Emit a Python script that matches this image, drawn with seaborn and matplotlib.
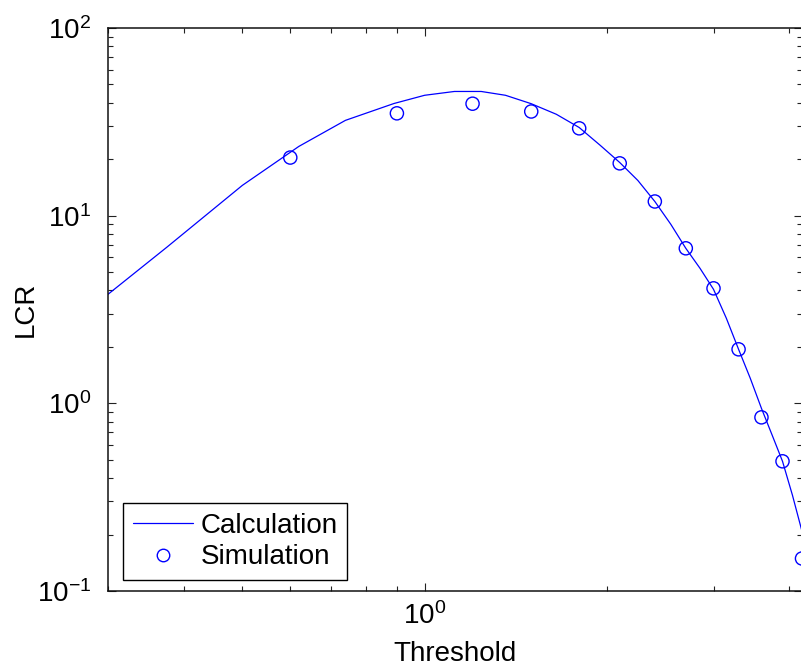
import math
import matplotlib
matplotlib.use("Agg")
import matplotlib.pyplot as plt
from matplotlib.lines import Line2D
from matplotlib.ticker import FuncFormatter, NullFormatter, LogLocator
import seaborn as sns
import pandas as pd

# Calculation curve
calc_x = [0.3, 0.375, 0.5, 0.62, 0.74, 0.89, 1.0, 1.12, 1.24, 1.36, 1.5, 1.65,
          1.8, 1.95, 2.1, 2.25, 2.4, 2.55, 2.7, 2.85, 3.0, 3.15, 3.3, 3.45,
          3.6, 3.75, 3.9, 4.05, 4.2]
calc_y = [3.81, 6.78, 14.5, 23.4, 32.2, 39.6, 43.8, 45.9, 45.9, 43.8, 39.5, 34.7,
          29.5, 23.7, 19.2, 15.4, 11.9, 9.0, 6.7, 5.24, 4.05, 2.84, 1.94, 1.36,
          0.94, 0.676, 0.491, 0.324, 0.208]

# Simulation points
sim_x = [0.6, 0.9, 1.2, 1.5, 1.8, 2.1, 2.4, 2.7, 3.0, 3.3, 3.6, 3.9, 4.2]
sim_y = [20.4, 35.1, 39.5, 35.9, 29.2, 19.0, 11.9, 6.70, 4.10, 1.94, 0.842, 0.491, 0.149]

xlim = (0.3, 4.2)
ylim = (0.1, 100)

sns.set_style("ticks")
plt.rcParams["font.family"] = ["Liberation Sans", "DejaVu Sans"]
plt.rcParams["mathtext.fontset"] = "custom"
plt.rcParams["mathtext.rm"] = "Liberation Sans"
plt.rcParams["mathtext.it"] = "Liberation Sans"
plt.rcParams["mathtext.default"] = "regular"
for k in ["text.color", "axes.labelcolor", "xtick.color", "ytick.color"]:
    plt.rcParams[k] = "black"

FS = 20
blue = (0, 0, 1)
fig = plt.figure(figsize=(8.01, 6.70), dpi=100)
W, H = 801, 670
ax = fig.add_axes([108 / W, 79 / H, 694 / W, 563 / H])

calc_df = pd.DataFrame({"x": calc_x, "y": calc_y})
sim_df = pd.DataFrame({"x": sim_x, "y": sim_y})

sns.lineplot(data=calc_df, x="x", y="y", ax=ax, color=blue, linewidth=0.9,
             sort=False, estimator=None)
sns.scatterplot(data=sim_df, x="x", y="y", ax=ax, marker="o", s=90,
                facecolors="none", edgecolor=blue, linewidth=1.0, clip_on=False, zorder=3)

ax.set_xscale("log")
ax.set_yscale("log")
ax.set_xlim(*xlim)
ax.set_ylim(*ylim)

fmt = FuncFormatter(lambda v, p: r"$10^{%d}$" % round(math.log10(v)))
ax.xaxis.set_major_locator(LogLocator(base=10, numticks=10))
ax.yaxis.set_major_locator(LogLocator(base=10, numticks=10))
ax.xaxis.set_minor_locator(LogLocator(base=10, subs=range(2, 10), numticks=10))
ax.yaxis.set_minor_locator(LogLocator(base=10, subs=range(2, 10), numticks=10))
ax.xaxis.set_major_formatter(fmt)
ax.yaxis.set_major_formatter(fmt)
ax.xaxis.set_minor_formatter(NullFormatter())
ax.yaxis.set_minor_formatter(NullFormatter())

ax.tick_params(which="both", direction="in", top=True, right=True, labelsize=FS,
               width=0.8, color="#222222")
ax.tick_params(which="major", length=6)
ax.tick_params(which="minor", length=3.5)
ax.tick_params(axis="x", which="major", pad=8)
ax.tick_params(axis="y", which="major", pad=12)
for s in ax.spines.values():
    s.set_visible(True)
    s.set_linewidth(1.1)
    s.set_color("#111111")

ax.set_xlabel("Threshold", fontsize=FS, labelpad=8)
ax.set_ylabel("LCR", fontsize=FS, labelpad=-1)

handles = [
    Line2D([0], [0], color=blue, linewidth=0.9),
    Line2D([0], [0], color=blue, linestyle="none", marker="o", markersize=9,
           markerfacecolor="none", markeredgewidth=1.0),
]
leg = ax.legend(handles, ["Calculation", "Simulation"], loc="lower left",
                bbox_to_anchor=(15 / 694, 11 / 563), borderaxespad=0,
                fontsize=FS, frameon=True, fancybox=False, framealpha=1,
                edgecolor="black", handlelength=2.16, handletextpad=0.28,
                borderpad=0.35, labelspacing=0.2)
leg.get_frame().set_linewidth(1.0)

fig.savefig("out.png", dpi=100)
